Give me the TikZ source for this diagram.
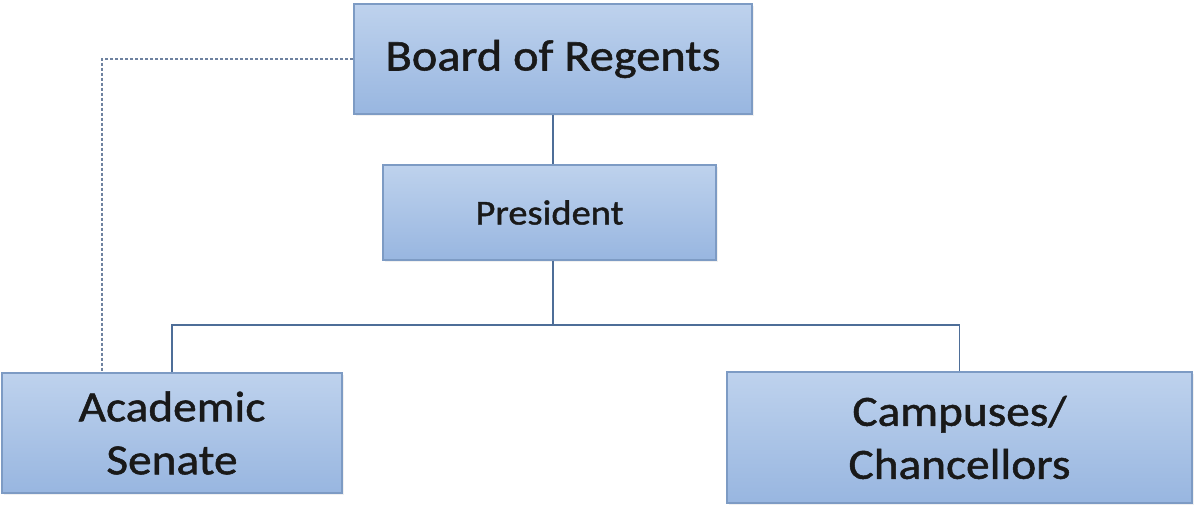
\documentclass[tikz,border=0pt]{standalone}
\usepackage{fontspec}
\setmainfont{Carlito}[FakeStretch=1.1, FakeBold=1.2]
\usetikzlibrary{shadows}
\definecolor{boxtop}{RGB}{190,210,237}
\definecolor{boxbot}{RGB}{152,182,224}
\definecolor{boxline}{RGB}{125,155,196}
\definecolor{conn}{RGB}{78,110,152}
\definecolor{dotc}{RGB}{110,130,160}
\tikzset{
  orgbox/.style={draw=boxline, line width=0.6pt, top color=boxtop, bottom color=boxbot,
    align=center, inner sep=0pt, text=black!90,
    drop shadow={opacity=0.12, shadow xshift=1pt, shadow yshift=-1pt}},
  bigtxt/.style={font=\fontsize{21.5}{26.5}\selectfont},
  boardtxt/.style={font=\fontsize{22}{26.5}\selectfont},
  midtxt/.style={font=\fontsize{17.5}{20}\selectfont},
  conline/.style={draw=conn, line width=0.9pt},
  dotline/.style={draw=dotc, line width=0.6pt, dash pattern=on 1.5pt off 1pt}
}
\begin{document}
\begin{tikzpicture}[x=0.5pt,y=-0.5pt]
\useasboundingbox (0,0) rectangle (1194,506);
\node[orgbox, boardtxt, minimum width=199pt, minimum height=55pt] (board) at (553,59) {Board of Regents};
\node[orgbox, midtxt, minimum width=166.5pt, minimum height=47.5pt] (pres) at (549.5,212.5) {President};
\node[orgbox, bigtxt, minimum width=170pt, minimum height=60pt] (acad) at (172,433) {Academic\\Senate};
\node[orgbox, bigtxt, minimum width=232.5pt, minimum height=65.5pt] (camp) at (959.5,437.5) {Campuses/\\Chancellors};
\coordinate (bus) at (553,325);
\coordinate (dcorner) at (102,59);
\draw[conline] (board.south) -- (board.south |- pres.north);
\draw[conline] (board.south |- pres.south) -- (bus);
\draw[conline] (acad.north) |- (bus) -| (camp.north);
\draw[dotline] (board.west) -- (dcorner) -- (dcorner |- acad.north);
\end{tikzpicture}
\end{document}
